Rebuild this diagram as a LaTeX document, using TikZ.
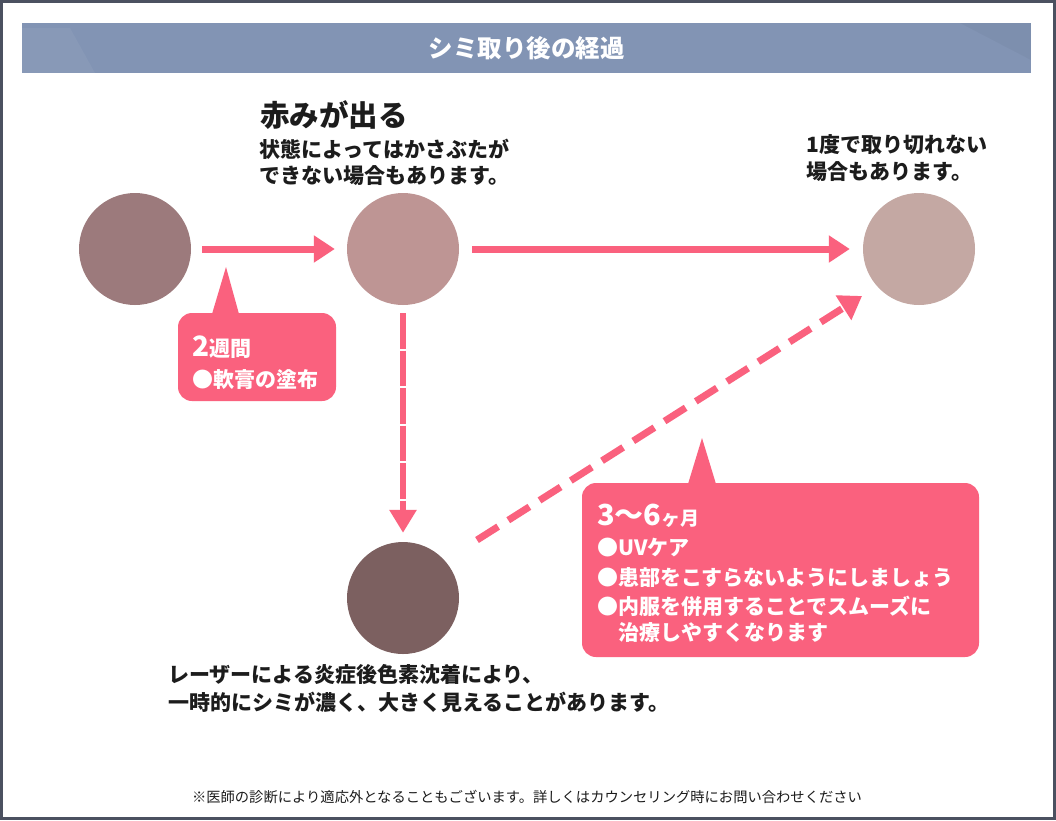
\documentclass[tikz,border=0pt]{standalone}
\usepackage{fontspec}
\setmainfont{Noto Sans CJK JP}
\usetikzlibrary{arrows.meta}
\definecolor{accentpink}{HTML}{FA617E}
\definecolor{framegray}{HTML}{4B5160}
\definecolor{barblue}{HTML}{8294B4}
\definecolor{inkblack}{HTML}{1C1C1C}
\definecolor{spotA}{HTML}{9C7A7C}
\definecolor{spotB}{HTML}{BE9594}
\definecolor{spotC}{HTML}{C4A8A3}
\definecolor{spotD}{HTML}{7C6060}
\begin{document}
\begin{tikzpicture}[x=1pt,y=-1pt,
  spot/.style={circle,minimum size=112pt,inner sep=0pt,draw=none},
  arr/.style={draw=accentpink,line width=7pt,-{Triangle[length=21pt,width=26pt]}},
  callout/.style={fill=accentpink,rounded corners=14pt,inner sep=0pt},
  body/.style={font=\bfseries\fontsize{21}{27}\selectfont,text=inkblack,inner sep=0pt,anchor=west},
  wbody/.style={font=\bfseries\fontsize{21}{27}\selectfont,text=white,inner sep=0pt,anchor=west}]
\useasboundingbox (0,0) rectangle (1056,820);
\fill[white] (0,0) rectangle (1056,820);
\draw[framegray,line width=3pt] (1.5,1.5) rectangle (1054.5,818.5);
% title bar
\node[fill=barblue,minimum width=1009pt,minimum height=50pt,inner sep=0pt] (bar) at (526.5,48) {};
\fill[white,opacity=0.05] (22,28) -- (70,28) -- (95,73) -- (22,73) -- cycle;
\fill[black,opacity=0.03] (960,23) -- (1031,23) -- (1031,60) -- cycle;
\node[font=\bfseries\fontsize{24.5}{28}\selectfont,text=white] (title) at (bar) {シミ取り後の経過};
% spots
\node[spot,fill=spotA] (c1) at (135,249) {};
\node[spot,fill=spotB] (c2) at (403,249) {};
\node[spot,fill=spotC] (c3) at (919,249) {};
\node[spot,fill=spotD] (c4) at (403,598) {};
% connectors
\draw[arr,shorten <=11pt,shorten >=12pt] (c1) -- (c2);
\draw[arr,shorten <=13pt,shorten >=13pt] (c2) -- (c3);
\draw[arr,line width=6pt,dash pattern=on 35.5pt off 2pt,shorten <=8pt,shorten >=9pt,
  -{Triangle[length=23pt,width=26pt]}] (c2) -- (c4);
\coordinate (d1) at (477,540);
\coordinate (d2) at (862,296);
\draw[arr,dash pattern=on 25pt off 12pt,-{Triangle[length=22pt,width=28pt]}] (d1) -- (d2);
% callout 1
\node[callout,minimum width=158pt,minimum height=88pt] (k1) at (257,357) {};
\fill[accentpink] (212,314) -- (226,267) -- (239,314) -- cycle;
\node[wbody] (k1a) at (192,347) {{\fontsize{28}{29}\selectfont 2}週間};
\node[wbody] (k1b) at (192,379) {●軟膏の塗布};
% callout 2
\node[callout,minimum width=397pt,minimum height=174pt] (k2) at (780.5,570) {};
\fill[accentpink] (688,484) -- (702,438) -- (716,484) -- cycle;
\node[wbody] (k2a) at (597,516) {{\fontsize{29}{30}\selectfont 3〜6}{\fontsize{19}{21}\selectfont ヶ月}};
\node[wbody] (k2b) at (597,548) {●UVケア};
\node[wbody] (k2c) at (597,578) {●患部をこすらないようにしましょう};
\node[wbody] (k2d) at (597,606) {●内服を併用することでスムーズに};
\node[wbody] (k2e) at (618,633) {治療しやすくなります};
% texts
\node[body,font=\bfseries\fontsize{29.5}{32}\selectfont] (t1) at (260,115) {赤みが出る};
\node[body] (t2) at (259,149) {状態によってはかさぶたが};
\node[body] (t3) at (259,176) {できない場合もあります。};
\node[body] (t4) at (806,145) {1度で取り切れない};
\node[body] (t5) at (806,172) {場合もあります。};
\node[body] (t6) at (168,675) {レーザーによる炎症後色素沈着により、};
\node[body] (t7) at (168,702) {一時的にシミが濃く、大きく見えることがあります。};
\node[font=\fontsize{14.3}{16}\selectfont,text=inkblack,inner sep=0pt] (foot) at (527,797) {※医師の診断により適応外となることもございます。詳しくはカウンセリング時にお問い合わせください};
\end{tikzpicture}
\end{document}
